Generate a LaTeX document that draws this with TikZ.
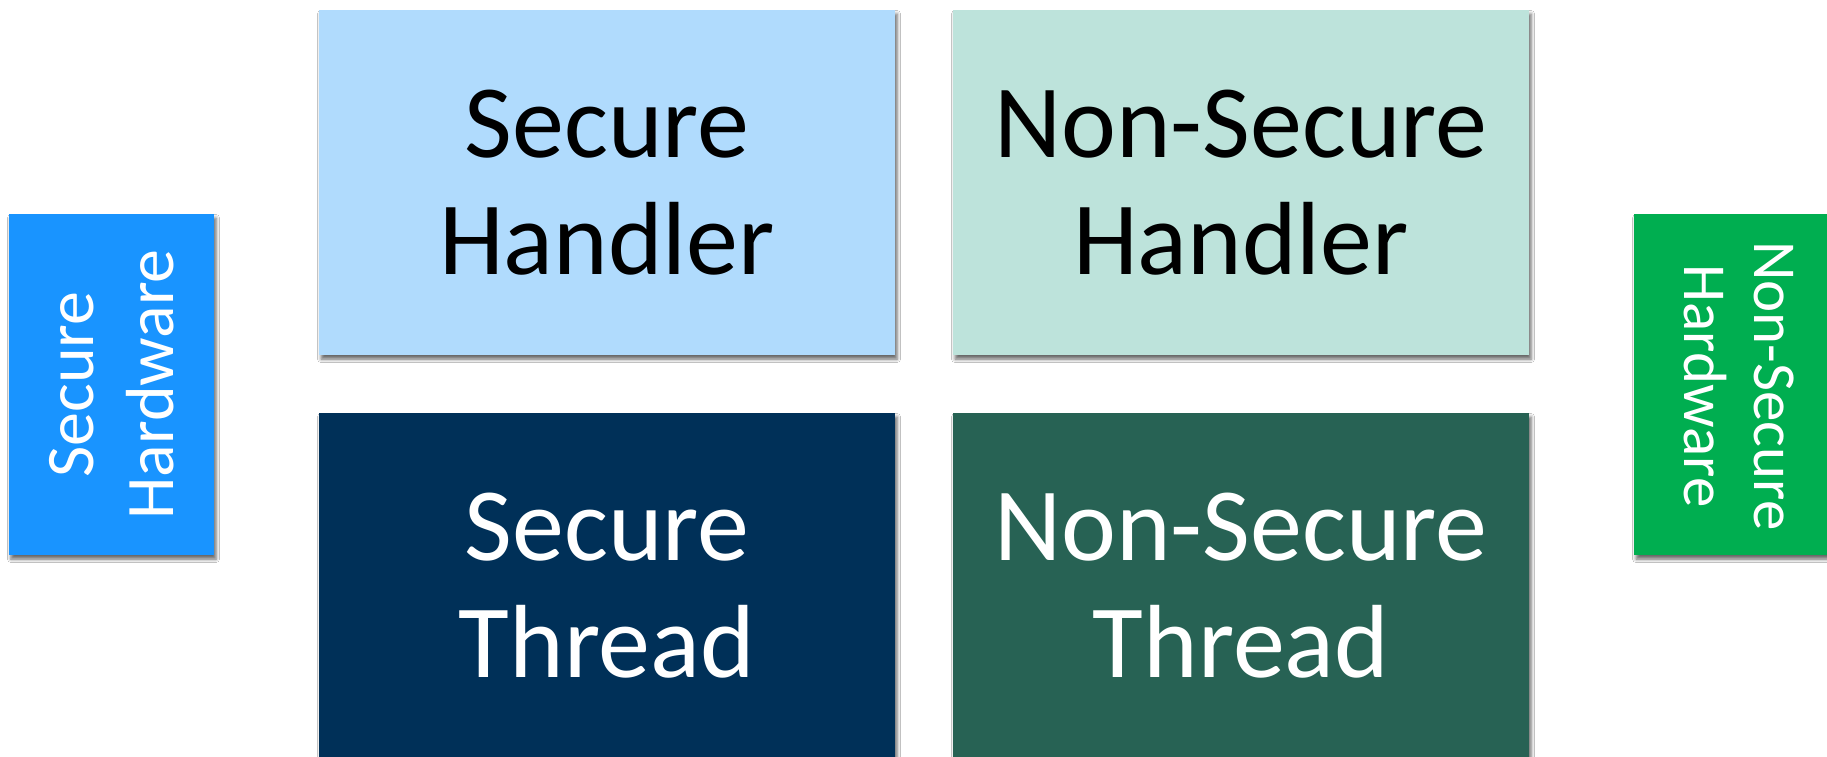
\documentclass[tikz,border=0pt]{standalone}
\usepackage{fontspec}
\setmainfont{Carlito}
\usetikzlibrary{shadows.blur}
\definecolor{shfill}{HTML}{B0DBFD}
\definecolor{nshfill}{HTML}{BDE3DB}
\definecolor{stfill}{HTML}{003058}
\definecolor{nstfill}{HTML}{276254}
\definecolor{shwfill}{HTML}{1994FF}
\definecolor{nshwfill}{HTML}{00AE50}
\tikzset{
  box/.style={rectangle, minimum width=576pt, minimum height=345pt, inner sep=0pt, align=center,
    font=\fontsize{104}{117}\selectfont,
    blur shadow={shadow xshift=2pt, shadow yshift=-4pt, shadow blur radius=3.5pt, shadow opacity=60}},
  hwbox/.style={rectangle, minimum width=205pt, minimum height=341pt, inner sep=0pt, align=center, text=white,
    blur shadow={shadow xshift=2pt, shadow yshift=-4pt, shadow blur radius=3.5pt, shadow opacity=60}},
}
\begin{document}
\begin{tikzpicture}[x=1pt,y=-1pt]
\useasboundingbox (0,0) rectangle (1827,757);
\clip (0,0) rectangle (1827,757);
\fill[white] (0,0) rectangle (1827,757);
\node[box, fill=shfill, text=black] (sh) at (607,182.5) {Secure\\Handler};
\node[box, fill=nshfill, text=black] (nsh) at (1241,182.5) {Non-Secure\\Handler};
\node[box, fill=stfill, text=white] (st) at (607,585.5) {Secure\\Thread};
\node[box, fill=nstfill, text=white] (nst) at (1241,585.5) {Non-Secure\\Thread};
\node[hwbox, fill=shwfill] (shw) at (111.5,384.5) {};
\node[rotate=90, align=center, text=white, font=\fontsize{68}{80}\selectfont, inner sep=0pt] (shwt) at (shw.center) {Secure\\Hardware};
\node[hwbox, fill=nshwfill] (nshw) at (1736.5,384.5) {};
\node[rotate=-90, align=center, text=white, font=\fontsize{61}{70}\selectfont, inner sep=0pt] (nshwt) at (1739,386) {Non-Secure\\Hardware};
\end{tikzpicture}
\end{document}
